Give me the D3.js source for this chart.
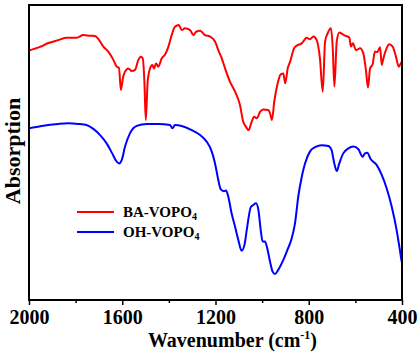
<!DOCTYPE html>
<html>
<head>
<meta charset="utf-8">
<script src="https://cdn.jsdelivr.net/npm/d3@7"></script>
<style>
    body { margin: 0; background: #fff; }
    svg { display: block; }
    text { font-family: "Liberation Serif", "Times New Roman", serif; font-weight: bold; fill: #000; }
</style>
</head>
<body>
<svg id="chart" width="420" height="354"></svg>
<script>
// FTIR spectra, [wavenumber (cm-1), absorption (a.u.)]
const baVopo4 = [
    [2000, 84.6], [1953, 85.8], [1917, 87.1], [1874, 88.1], [1838, 88.9], [1795, 88.9],
    [1767, 89.8], [1738, 89.6], [1717, 89.5], [1703, 88.5], [1681, 85.9], [1660, 84.2],
    [1638, 81.4], [1624, 79.1], [1614, 78.7], [1606, 71.2], [1596, 75.7], [1588, 77.4],
    [1574, 78.5], [1559, 77.6], [1545, 78.0], [1531, 81.4], [1520, 82.5], [1512, 81.9],
    [1505, 74.0], [1499, 61.0], [1491, 74.0], [1481, 78.5], [1471, 79.7], [1464, 78.5],
    [1455, 80.2], [1445, 79.1], [1431, 81.9], [1417, 83.1], [1402, 85.9], [1388, 89.8],
    [1374, 92.6], [1357, 93.2], [1345, 91.5], [1331, 92.1], [1309, 91.5], [1295, 89.8],
    [1284, 90.9], [1266, 91.3], [1245, 89.8], [1224, 89.3], [1202, 87.6], [1188, 84.7],
    [1173, 81.9], [1159, 78.5], [1138, 74.0], [1116, 70.6], [1095, 66.1], [1081, 60.4],
    [1069, 58.7], [1058, 57.6], [1045, 60.4], [1034, 62.1], [1023, 61.6], [1009, 63.8],
    [995, 64.6], [974, 64.4], [966, 63.3], [958, 61.0], [948, 67.2], [935, 72.9],
    [920, 76.5], [909, 76.8], [901, 73.5], [890, 78.6], [880, 80.8], [863, 85.3],
    [852, 86.2], [830, 87.0], [809, 88.9], [795, 88.4], [780, 89.3], [766, 88.1],
    [752, 81.9], [740, 70.6], [730, 87.6], [719, 90.4], [705, 92.1], [697, 85.3],
    [690, 72.3], [680, 87.6], [669, 90.7], [645, 89.6], [626, 89.0], [619, 85.9],
    [611, 87.0], [597, 84.7], [580, 85.3], [566, 83.6], [554, 77.4], [546, 72.0],
    [537, 78.5], [526, 79.9], [516, 84.2], [506, 84.0], [494, 85.7], [487, 79.7],
    [480, 81.9], [469, 84.7], [455, 86.7], [440, 85.9], [426, 82.5], [414, 79.1],
    [401, 80.7], [400, 80.7]
];

const ohVopo4 = [
    [2000, 58.2], [1946, 59.0], [1874, 59.7], [1831, 59.9], [1789, 59.7], [1753, 59.3],
    [1724, 58.0], [1695, 55.9], [1667, 53.1], [1643, 49.7], [1624, 46.9], [1613, 46.3],
    [1602, 47.5], [1588, 52.0], [1567, 56.5], [1538, 59.0], [1495, 59.7], [1445, 59.7],
    [1395, 59.3], [1385, 58.2], [1374, 59.3], [1345, 59.0], [1302, 57.6], [1266, 55.9],
    [1238, 53.7], [1216, 50.3], [1202, 46.3], [1188, 40.7], [1178, 37.6], [1164, 36.9],
    [1155, 37.1], [1145, 35.0], [1131, 29.4], [1116, 24.8], [1102, 20.3], [1088, 16.7],
    [1076, 18.6], [1064, 24.8], [1049, 31.4], [1038, 32.2], [1026, 32.8], [1016, 30.5],
    [1006, 23.7], [998, 19.8], [988, 19.8], [978, 17.5], [966, 13.0], [955, 9.6],
    [945, 8.8], [931, 10.2], [909, 13.6], [892, 16.9], [873, 20.9], [859, 26.0],
    [845, 35.0], [830, 41.8], [816, 46.3], [795, 50.3], [773, 51.8], [744, 52.5],
    [716, 52.2], [702, 50.8], [692, 46.9], [680, 43.7], [669, 46.3], [652, 49.7],
    [630, 51.4], [609, 52.0], [587, 51.1], [569, 48.6], [559, 49.7], [549, 49.9],
    [534, 47.7], [509, 45.8], [487, 42.4], [466, 37.9], [444, 31.6], [423, 23.7],
    [409, 16.9], [401, 13.0], [400, 12.8]
];

const majorTicks = [2000, 1600, 1200, 800, 400];
const minorTicks = [1800, 1400, 1000, 600];

const series = [
    {name: "BA-VOPO", sub: "4", color: "#ff0000", data: baVopo4},
    {name: "OH-VOPO", sub: "4", color: "#0000ff", data: ohVopo4}
];

const width = 420;
const height = 354;
const margins = {left: 29, right: 18, top: 5, bottom: 54};

const svg = d3.select("#chart");

const x = d3.scaleLinear()
    .domain([2000, 400])
    .range([margins.left, width - margins.right]);
const y = d3.scaleLinear()
    .domain([0, 100])
    .range([height - margins.bottom, margins.top]);

const plotW = width - margins.left - margins.right;
const plotH = height - margins.top - margins.bottom;

svg.append("clipPath")
    .attr("id", "plot-clip")
    .append("rect")
    .attr("x", margins.left)
    .attr("y", margins.top)
    .attr("width", plotW)
    .attr("height", plotH);

// spectra
const line = d3.line()
    .x(d => x(d[0]))
    .y(d => y(d[1]))
    .curve(d3.curveMonotoneX);

svg.append("g")
    .attr("clip-path", "url(#plot-clip)")
    .selectAll("path")
    .data(series)
    .enter()
    .append("path")
    .attr("fill", "none")
    .attr("stroke", d => d.color)
    .attr("stroke-width", 2)
    .attr("stroke-linejoin", "round")
    .attr("d", d => line(d.data));

// x axis with major and minor ticks
const xAxis = d3.axisBottom(x)
    .tickValues(majorTicks)
    .tickSize(5)
    .tickFormat(d3.format("d"));
const xMinor = d3.axisBottom(x)
    .tickValues(minorTicks)
    .tickSize(3)
    .tickFormat("");

const gx = svg.append("g")
    .attr("class", "axis")
    .attr("transform", `translate(0, ${height - margins.bottom})`)
    .call(xAxis);
gx.select(".domain").remove();
gx.selectAll(".tick line").attr("stroke-width", 1.5);
gx.selectAll(".tick text")
    .attr("y", 10)
    .attr("dy", "0.71em")
    .style("font-size", "20px")
    .style("font-family", "'Liberation Serif', serif")
    .style("font-weight", "bold");

const gm = svg.append("g")
    .attr("transform", `translate(0, ${height - margins.bottom})`)
    .call(xMinor);
gm.select(".domain").remove();
gm.selectAll(".tick line").attr("stroke-width", 1.5);

// frame
svg.append("rect")
    .attr("x", margins.left)
    .attr("y", margins.top)
    .attr("width", plotW)
    .attr("height", plotH)
    .attr("fill", "none")
    .attr("stroke", "#000")
    .attr("stroke-width", 2);

// axis labels
const xLabel = svg.append("text")
    .attr("x", margins.left + plotW / 2 + 17)
    .attr("y", 347)
    .style("text-anchor", "middle")
    .style("font-size", "20px");
xLabel.append("tspan").text("Wavenumber (cm");
xLabel.append("tspan").attr("dy", -8).style("font-size", "12px").text("-1");
xLabel.append("tspan").attr("dy", 8).text(")");

svg.append("text")
    .attr("transform", `translate(20, 151) rotate(-90)`)
    .style("text-anchor", "middle")
    .style("font-size", "22px")
    .text("Absorption");

// legend
const legend = svg.append("g")
    .selectAll("g")
    .data(series)
    .enter()
    .append("g")
    .attr("transform", (d, i) => `translate(77, ${212 + i * 20})`);

legend.append("line")
    .attr("x1", 0)
    .attr("x2", 37)
    .attr("stroke", d => d.color)
    .attr("stroke-width", 2);

const legendText = legend.append("text")
    .attr("x", 46)
    .attr("y", 5)
    .style("font-size", "15px");
legendText.append("tspan").text(d => d.name);
legendText.append("tspan").attr("dy", 3).style("font-size", "10px").text(d => d.sub);
</script>
</body>
</html>
